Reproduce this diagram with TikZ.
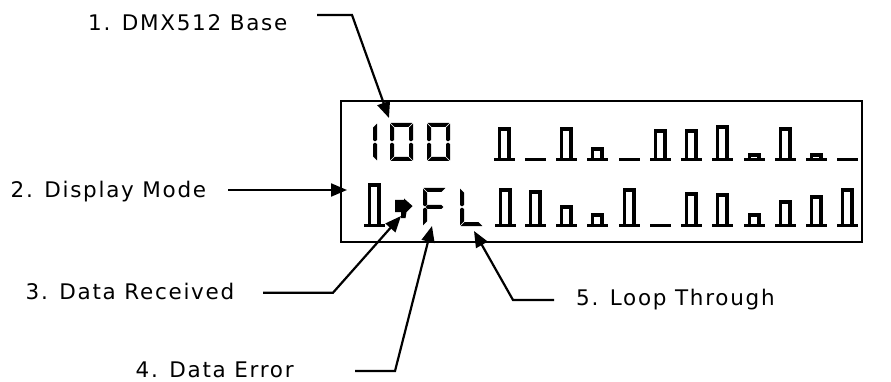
\documentclass[tikz,border=0pt]{standalone}
\usepackage{fontspec}
\newfontfamily\lblfont{DejaVu Sans}[LetterSpace=8]
\usetikzlibrary{arrows.meta}
% LCD bar glyph: centre x, top y, bottom y
\newcommand\lcdbar[3]{%
  \fill ({#1-10.5},#3) rectangle ({#1+10.5},{#3-3.2});
  \draw[line width=3.8pt] ({#1-4.6},{#3-3}) |- ({#1+4.6},{#2+1.9}) -- ({#1+4.6},{#3-3});}
\newcommand\lcdbase[2]{\fill ({#1-10.5},#2) rectangle ({#1+10.5},{#2-3.2});}
% seven segment pieces: x0 y0 x1 y1
\newcommand\sgA[4]{\fill ({#1+0.6},#2) -- ({#3-0.6},#2) -- ({#3-4.6},{#2+4}) -- ({#1+4.6},{#2+4}) -- cycle;}
\newcommand\sgD[4]{\fill ({#1+0.6},#4) -- ({#3-0.6},#4) -- ({#3-4.6},{#4-4}) -- ({#1+4.6},{#4-4}) -- cycle;}
\newcommand\sgB[4]{\fill (#3,{#2+0.6}) -- (#3,{(#2+#4)/2-2}) -- ({#3-2},{(#2+#4)/2-0.6}) -- ({#3-4},{(#2+#4)/2-2}) -- ({#3-4},{#2+4.6}) -- cycle;}
\newcommand\sgC[4]{\fill (#3,{#4-0.6}) -- (#3,{(#2+#4)/2+2}) -- ({#3-2},{(#2+#4)/2+0.6}) -- ({#3-4},{(#2+#4)/2+2}) -- ({#3-4},{#4-4.6}) -- cycle;}
\newcommand\sgF[4]{\fill (#1,{#2+0.6}) -- (#1,{(#2+#4)/2-2}) -- ({#1+2},{(#2+#4)/2-0.6}) -- ({#1+4},{(#2+#4)/2-2}) -- ({#1+4},{#2+4.6}) -- cycle;}
\newcommand\sgE[4]{\fill (#1,{#4-0.6}) -- (#1,{(#2+#4)/2+2}) -- ({#1+2},{(#2+#4)/2+0.6}) -- ({#1+4},{(#2+#4)/2+2}) -- ({#1+4},{#4-4.6}) -- cycle;}
\newcommand\sgG[4]{\fill ({#1+2.6},{(#2+#4)/2}) -- ({#1+4.6},{(#2+#4)/2-2}) -- ({#3-4.6},{(#2+#4)/2-2}) -- ({#3-2.6},{(#2+#4)/2}) -- ({#3-4.6},{(#2+#4)/2+2}) -- ({#1+4.6},{(#2+#4)/2+2}) -- cycle;}
\tikzset{
  callout/.style={line width=2.2pt, -{Triangle[length=16pt,width=13pt]}},
  lbl/.style={anchor=base west, inner sep=0pt, font=\lblfont\fontsize{21.5}{26}\selectfont},
  lcdframe/.style={draw, line width=2pt, inner sep=0pt, anchor=north west}
}
\begin{document}
\begin{tikzpicture}[x=1pt,y=-1pt]
\useasboundingbox (0,0) rectangle (891,382);
\fill[white] (0,0) rectangle (891,382);

% display frame
\node[lcdframe, minimum width=521pt, minimum height=141pt] (lcd) at (340,100) {};

% row 1: "100" and bars
\sgB{354}{123}{377}{161}\sgC{354}{123}{377}{161}
\sgA{390}{123}{413}{161}\sgB{390}{123}{413}{161}\sgC{390}{123}{413}{161}
\sgD{390}{123}{413}{161}\sgE{390}{123}{413}{161}\sgF{390}{123}{413}{161}
\sgA{427}{123}{450}{161}\sgB{427}{123}{450}{161}\sgC{427}{123}{450}{161}
\sgD{427}{123}{450}{161}\sgE{427}{123}{450}{161}\sgF{427}{123}{450}{161}
\lcdbar{504}{127}{161}
\lcdbase{535}{161}
\lcdbar{566}{127}{161}
\lcdbar{597}{147}{161}
\lcdbase{629}{161}
\lcdbar{660}{129}{161}
\lcdbar{691}{129}{161}
\lcdbar{722}{125}{161}
\lcdbar{754}{153}{161}
\lcdbar{785}{127}{161}
\lcdbar{816}{153}{161}
\lcdbase{847}{161}

% row 2: bar, arrow, F, L, bars
\lcdbar{374}{183}{227}
\fill (395,200) -- (404,200) -- (404,198.5) -- (412.5,206) -- (406.5,212) -- (405.5,218) -- (401,218) -- (401,212) -- (395,212) -- cycle;
\sgA{423}{188}{446}{226}\sgF{423}{188}{446}{226}\sgE{423}{188}{446}{226}\sgG{423}{188}{446}{226}
\sgF{460}{188}{483}{226}\sgE{460}{188}{483}{226}\sgD{460}{188}{483}{226}
\lcdbar{505}{188}{227}
\lcdbar{535}{190}{227}
\lcdbar{566}{205}{227}
\lcdbar{597}{213}{227}
\lcdbar{629}{188}{227}
\lcdbase{660}{227}
\lcdbar{691}{192}{227}
\lcdbar{722}{193}{227}
\lcdbar{754}{213}{227}
\lcdbar{785}{200}{227}
\lcdbar{816}{195}{227}
\lcdbar{847}{188}{227}

% labels
\node[lbl] (l1) at (88,30.5) {1. DMX512 Base};
\node[lbl] (l2) at (10.5,198) {2. Display Mode};
\node[lbl] (l3) at (25.5,299) {3. Data Received};
\node[lbl] (l4) at (135.5,377) {4. Data Error};
\node[lbl] (l5) at (576,305.5) {5. Loop Through};

% callout points
\coordinate (s1) at (317,15);   \coordinate (k1) at (352,15);   \coordinate (t1) at (389,118);
\coordinate (s2) at (228,190);  \coordinate (t2) at (347,190);
\coordinate (s3) at (263,292.7);\coordinate (k3) at (333,292.7);\coordinate (t3) at (401,216);
\coordinate (s4) at (355,371);  \coordinate (k4) at (395,371);  \coordinate (t4) at (432,226);
\coordinate (s5) at (554,300);  \coordinate (k5) at (513,300);  \coordinate (t5) at (474,231);

\draw[callout] (s1) -- (k1) -- (t1);
\draw[callout] (s2) -- (t2);
\draw[callout] (s3) -- (k3) -- (t3);
\draw[callout] (s4) -- (k4) -- (t4);
\draw[callout] (s5) -- (k5) -- (t5);
\end{tikzpicture}
\end{document}
